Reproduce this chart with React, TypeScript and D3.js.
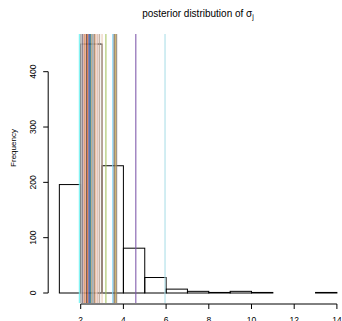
import React from "react";
import * as d3 from "d3";

// histogram of posterior sigma draws (bin width 1)
const binStarts = [1, 2, 3, 4, 5, 6, 7, 8, 9, 10, 11, 12, 13];
const binCounts = [196, 450, 230, 81, 28, 7, 3, 1, 3, 1, 0, 0, 1];

// posterior means of sigma_j drawn as vertical lines
const lineValues = [
  1.94, 2.0, 2.04, 2.08, 2.12, 2.16, 2.2, 2.24, 2.28, 2.32, 2.36, 2.4, 2.44,
  2.48, 2.52, 2.56, 2.6, 2.64, 2.69, 2.74, 2.8, 2.88, 3.0, 3.18, 3.5, 3.57,
  3.62, 3.68, 4.58, 5.95,
];
const lineColors = [
  "#66F0F0", "#A0A0A0", "#D9D9D9", "#595959", "#C8A2C8", "#E3B98F", "#CD853F",
  "#F4A0A0", "#3D3D3D", "#EE7621", "#9A6A9A", "#4F81BD", "#1F3F7F", "#2E8B8B",
  "#C8A878", "#8CA0B8", "#C0C0C0", "#8B7355", "#F0B090", "#E6D2C8", "#D8B0A0",
  "#B8A090", "#E8C8B0", "#A2C05A", "#7FD4F5", "#505060", "#C8A040", "#8B7D6B",
  "#7B52A8", "#A8DDE6",
];

const xTicks = [2, 4, 6, 8, 10, 12, 14];
const yTicks = [0, 100, 200, 300, 400];

const width = 342;
const height = 321;
const font = "'Liberation Sans', Arial, Helvetica, sans-serif";

export default function App() {
  const x = d3.scaleLinear().domain([2, 14]).range([80.7, 336.9]);
  const y = d3.scaleLinear().domain([0, 400]).range([293, 71.7]);
  const top = y(468);
  const bottom = y(-18);
  const axisY = 304;
  const axisX = 48.2;

  return (
    <svg
      width={width}
      height={height}
      style={{ position: "absolute", left: 0, top: 0, background: "#fff" }}
    >
      <text
        x={198}
        y={16.5}
        textAnchor="middle"
        fontFamily={font}
        fontSize={10}
        fill="#000"
      >
        posterior distribution of σ
        <tspan fontSize={7} dy={2.5}>
          j
        </tspan>
      </text>

      {/* histogram bars */}
      {binStarts.map((b, i) => (
        <rect
          key={"b" + i}
          x={x(b)}
          y={y(binCounts[i])}
          width={x(b + 1) - x(b)}
          height={Math.max(0, y(0) - y(binCounts[i]))}
          fill="none"
          stroke="#000"
          strokeWidth={1}
        />
      ))}

      {/* vertical reference lines, drawn over the histogram */}
      {lineValues.map((v, i) => (
        <line
          key={"l" + i}
          x1={x(v)}
          x2={x(v)}
          y1={top}
          y2={bottom}
          stroke={lineColors[i]}
          strokeWidth={1.3}
          strokeOpacity={0.8}
        />
      ))}

      {/* x axis */}
      <line
        x1={x(2)}
        x2={x(14)}
        y1={axisY}
        y2={axisY}
        stroke="#000"
        strokeWidth={1}
      />
      {xTicks.map((t) => (
        <g key={"xt" + t}>
          <line
            x1={x(t)}
            x2={x(t)}
            y1={axisY}
            y2={axisY + 5}
            stroke="#000"
          />
          <text
            x={x(t)}
            y={axisY + 19}
            textAnchor="middle"
            fontFamily={font}
            fontSize={8.5}
            fill="#000"
          >
            {t}
          </text>
        </g>
      ))}

      {/* y axis */}
      <line
        x1={axisX}
        x2={axisX}
        y1={y(0)}
        y2={y(400)}
        stroke="#000"
        strokeWidth={1}
      />
      {yTicks.map((t) => (
        <g key={"yt" + t}>
          <line
            x1={axisX - 5}
            x2={axisX}
            y1={y(t)}
            y2={y(t)}
            stroke="#000"
          />
          <text
            transform={`translate(${axisX - 12},${y(t)}) rotate(-90)`}
            textAnchor="middle"
            fontFamily={font}
            fontSize={8.5}
            fill="#000"
          >
            {t}
          </text>
        </g>
      ))}
      <text
        transform={`translate(16,148) rotate(-90)`}
        textAnchor="middle"
        fontFamily={font}
        fontSize={8}
        fill="#000"
      >
        Frequency
      </text>
    </svg>
  );
}
